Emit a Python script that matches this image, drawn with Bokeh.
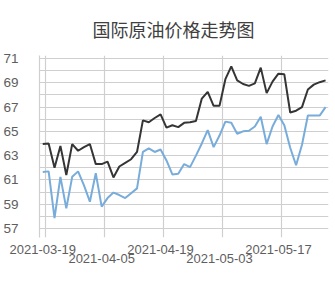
from bokeh.plotting import figure
from bokeh.models import FixedTicker, LinearAxis, Range1d
from bokeh.embed import file_html
from bokeh.resources import INLINE

# Trading-day categories (index positions on the x axis)
dates = [
    "2021-03-19", "2021-03-22", "2021-03-23", "2021-03-24", "2021-03-25", "2021-03-26",
    "2021-03-29", "2021-03-30", "2021-03-31", "2021-04-01", "2021-04-05", "2021-04-06",
    "2021-04-07", "2021-04-08", "2021-04-09", "2021-04-12", "2021-04-13", "2021-04-14",
    "2021-04-15", "2021-04-16", "2021-04-19", "2021-04-20", "2021-04-21", "2021-04-22",
    "2021-04-23", "2021-04-26", "2021-04-27", "2021-04-28", "2021-04-29", "2021-04-30",
    "2021-05-03", "2021-05-04", "2021-05-05", "2021-05-06", "2021-05-07", "2021-05-10",
    "2021-05-11", "2021-05-12", "2021-05-13", "2021-05-14", "2021-05-17", "2021-05-18",
    "2021-05-19", "2021-05-20", "2021-05-21", "2021-05-24", "2021-05-25", "2021-05-26",
    "2021-05-27",
]

# Dark series (e.g. Brent)
brent = [
    63.95, 64.0, 62.0, 63.8, 61.4, 63.95, 63.4, 63.7, 63.95, 62.3,
    62.3, 62.5, 61.2, 62.1, 62.4, 62.7, 63.3, 65.9, 65.75, 66.1,
    66.4, 65.3, 65.5, 65.35, 65.7, 65.75, 65.85, 67.7, 68.25, 67.1,
    67.1, 69.3, 70.35, 69.2, 68.9, 68.75, 68.95, 70.25, 68.15, 69.1,
    69.75, 69.7, 66.55, 66.7, 67.0, 68.45, 68.85, 69.05, 69.2,
]

# Light-blue series (e.g. WTI)
wti = [
    61.65, 61.7, 57.85, 61.25, 58.65, 61.25, 61.7, 60.55, 59.2, 61.55,
    58.8, 59.5, 59.95, 59.75, 59.5, 59.9, 60.3, 63.3, 63.6, 63.3,
    63.5, 62.6, 61.45, 61.5, 62.3, 62.05, 63.0, 64.0, 65.1, 63.7,
    64.65, 65.8, 65.7, 64.8, 65.0, 65.05, 65.4, 66.2, 63.95, 65.4,
    66.35, 65.5, 63.65, 62.2, 63.9, 66.3, 66.3, 66.3, 67.0,
]

title_text = "国际原油价格走势图"
y_label_ticks = [57, 59, 61, 63, 65, 67, 69, 71]
y_grid_ticks = list(range(57, 72))
x_label_row1 = [0, 20, 40]
x_label_row2 = [10, 30]
x_grid_ticks = [0.5, 10.5, 20.5, 30.5, 40.5]

idx = list(range(len(dates)))

GRID = "#cfcfcf"
LABEL = "#5e5e5e"
FONT = "Liberation Sans"

p = figure(
    width=335, height=283,
    output_backend="svg", toolbar_location=None,
    x_range=Range1d(-0.55, 48.5), y_range=Range1d(56.25, 71.25),
    x_axis_location=None, y_axis_location="left",
    min_border_left=37, min_border_right=7, min_border_top=52, min_border_bottom=46,
)
p.outline_line_color = None
p.background_fill_color = "white"
p.border_fill_color = "white"

p.title.text = title_text
p.title.text_font = "Noto Sans CJK SC"
p.title.text_font_size = "18px"
p.title.text_font_style = "normal"
p.title.text_color = "#404040"
p.title.align = "left"
p.title.offset = 53
p.title.standoff = 27

# y axis
ya = p.yaxis[0]
ya.ticker = FixedTicker(ticks=y_label_ticks)
ya.axis_line_color = GRID
ya.axis_line_width = 1.2
ya.major_tick_line_color = None
ya.minor_tick_line_color = None
ya.major_label_standoff = 15
ya.major_label_text_font = FONT
ya.major_label_text_font_size = "13.5px"
ya.major_label_text_color = LABEL

# x axes (two staggered rows)
for ticks, standoff in ((x_label_row1, 1), (x_label_row2, -9)):
    ax = LinearAxis(
        ticker=FixedTicker(ticks=ticks),
        major_label_overrides={i: dates[i] for i in ticks},
        axis_line_color=None, major_tick_line_color=None, minor_tick_line_color=None,
        major_label_standoff=standoff,
        major_label_text_font=FONT, major_label_text_font_size="13px",
        major_label_text_color=LABEL,
    )
    p.add_layout(ax, "below")

# grids
p.ygrid.ticker = FixedTicker(ticks=y_grid_ticks)
p.ygrid.grid_line_color = GRID
p.ygrid.grid_line_width = 1.2
p.xgrid.ticker = FixedTicker(ticks=x_grid_ticks)
p.xgrid.grid_line_color = GRID
p.xgrid.grid_line_width = 1.2

p.line(idx, wti, line_color="#78acdb", line_width=2)
p.line(idx, brent, line_color="#353535", line_width=2)

open("out.html", "w").write(file_html(p, INLINE))
